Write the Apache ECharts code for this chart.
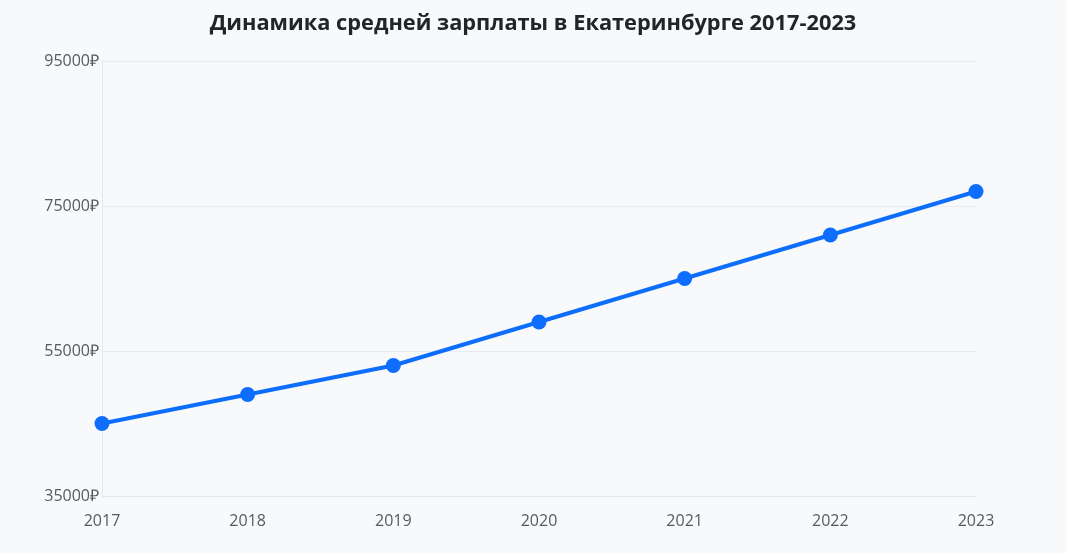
<!DOCTYPE html>
<html>
<head>
<meta charset="utf-8">
<script src="https://cdn.jsdelivr.net/npm/echarts@6/dist/echarts.min.js"></script>
<style>
html,body{margin:0;padding:0;background:#f8f9fa;}
#chart{width:1066px;height:553px;}
</style>
</head>
<body>
<div id="chart"></div>
<script>
const titleText = 'Динамика средней зарплаты в Екатеринбурге 2017-2023';
const years = ['2017','2018','2019','2020','2021','2022','2023'];
const salaries = [45000, 49000, 53000, 59000, 65000, 71000, 77000];
const yMin = 35000, yMax = 95000, yStep = 20000;

const chart = echarts.init(document.getElementById('chart'));
chart.setOption({
  backgroundColor: '#f8f9fa',
  title: {
    text: titleText,
    left: 'center',
    top: 8,
    textStyle: {fontFamily: 'Open Sans', fontSize: 21.8, fontWeight: 'bold', color: '#212529'}
  },
  grid: {left: 102, right: 90, top: 61, bottom: 57, containLabel: false},
  xAxis: {
    type: 'category',
    data: years,
    boundaryGap: false,
    axisLine: {show: true, lineStyle: {color: '#e5e7ea', width: 1}},
    axisTick: {show: false},
    axisLabel: {fontFamily: 'Open Sans', fontSize: 16, color: '#555b61', margin: 17},
    splitLine: {show: false}
  },
  yAxis: {
    type: 'value',
    min: yMin, max: yMax, interval: yStep,
    axisLine: {show: true, lineStyle: {color: '#e5e7ea', width: 1}},
    axisTick: {show: false},
    axisLabel: {fontFamily: 'Open Sans', fontSize: 16, color: '#555b61', margin: 3, formatter: v => v + '₽'},
    splitLine: {show: true, lineStyle: {color: '#e9ecef', width: 1}}
  },
  series: [{
    type: 'line',
    data: salaries,
    symbol: 'circle',
    symbolSize: 15,
    lineStyle: {color: '#0d6efd', width: 4},
    itemStyle: {color: '#0d6efd'},
    animation: false
  }]
});
</script>
</body>
</html>
